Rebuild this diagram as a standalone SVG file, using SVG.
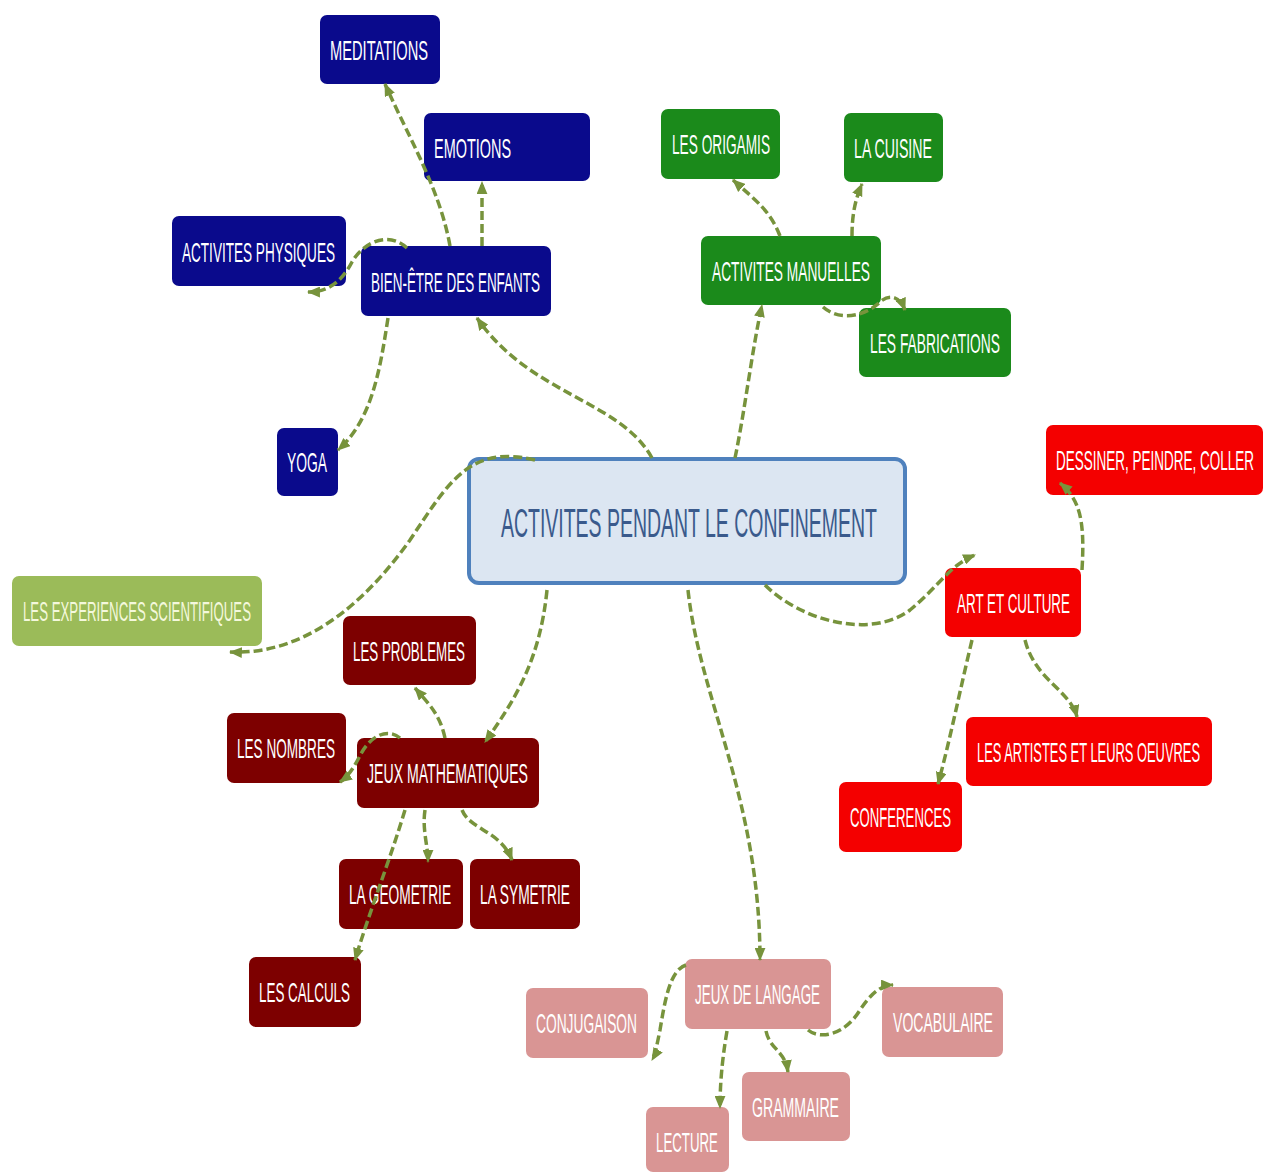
<svg xmlns="http://www.w3.org/2000/svg" width="1263" height="1172" viewBox="0 0 1263 1172">
<style>
.blue{fill:#0a0a8c}
.green{fill:#1b8a1b}
.lgreen{fill:#9bbb59}
.dred{fill:#7d0000}
.red{fill:#f40000}
.pink{fill:#d99594}
.t{font-family:"Liberation Sans",Arial,sans-serif;font-size:27px;fill:#ffffff}
.c{fill:none;stroke:#77933c;stroke-width:3.5;stroke-dasharray:9 4;marker-end:url(#ah)}
</style>
<defs>
<marker id="ah" viewBox="0 0 12 10" refX="11" refY="5" markerWidth="13" markerHeight="11" markerUnits="userSpaceOnUse" orient="auto">
<path d="M0,0 L12,5 L0,10 z" fill="#77933c"/>
</marker>
</defs>
<rect width="1263" height="1172" fill="#ffffff"/>

<g id="nodes">
<g id="center">
<rect x="469" y="459" width="436" height="124" rx="10" fill="#dce6f2" stroke="#4f81bd" stroke-width="4"/>
<text transform="translate(501,537) scale(0.5,1)" font-family="'Liberation Sans',Arial,sans-serif" font-size="40" fill="#3a5a8c" textLength="752" lengthAdjust="spacingAndGlyphs">ACTIVITES PENDANT LE CONFINEMENT</text>
</g>
<g id="meditations"><rect class="blue" x="320" y="15" width="120" height="69" rx="7"/><text class="t" transform="translate(330,60) scale(0.52,1)" textLength="188.5" lengthAdjust="spacingAndGlyphs">MEDITATIONS</text></g>
<g id="emotions"><rect class="blue" x="424" y="113" width="166" height="68" rx="7"/><text class="t" transform="translate(434,158) scale(0.52,1)" textLength="148.1" lengthAdjust="spacingAndGlyphs">EMOTIONS</text></g>
<g id="activites-physiques"><rect class="blue" x="172" y="216" width="174" height="70" rx="7"/><text class="t" transform="translate(182,262) scale(0.52,1)" textLength="294.2" lengthAdjust="spacingAndGlyphs">ACTIVITES PHYSIQUES</text></g>
<g id="bien-etre"><rect class="blue" x="361" y="246" width="190" height="70" rx="7"/><text class="t" transform="translate(371,292) scale(0.52,1)" textLength="325" lengthAdjust="spacingAndGlyphs">BIEN-ÊTRE DES ENFANTS</text></g>
<g id="yoga"><rect class="blue" x="277" y="428" width="61" height="68" rx="7"/><text class="t" transform="translate(287,472) scale(0.52,1)" textLength="76.9" lengthAdjust="spacingAndGlyphs">YOGA</text></g>

<g id="origamis"><rect class="green" x="661" y="109" width="119" height="70" rx="7"/><text class="t" transform="translate(672,154) scale(0.52,1)" textLength="188.5" lengthAdjust="spacingAndGlyphs">LES ORIGAMIS</text></g>
<g id="cuisine"><rect class="green" x="844" y="113" width="99" height="69" rx="7"/><text class="t" transform="translate(854,158) scale(0.52,1)" textLength="150" lengthAdjust="spacingAndGlyphs">LA CUISINE</text></g>
<g id="activites-manuelles"><rect class="green" x="701" y="236" width="180" height="69" rx="7"/><text class="t" transform="translate(712,281) scale(0.52,1)" textLength="303.8" lengthAdjust="spacingAndGlyphs">ACTIVITES MANUELLES</text></g>
<g id="fabrications"><rect class="green" x="859" y="308" width="152" height="69" rx="7"/><text class="t" transform="translate(870,353) scale(0.52,1)" textLength="250" lengthAdjust="spacingAndGlyphs">LES FABRICATIONS</text></g>

<g id="experiences"><rect class="lgreen" x="12" y="576" width="250" height="70" rx="7"/><text class="t" transform="translate(23,621) scale(0.52,1)" textLength="438.5" lengthAdjust="spacingAndGlyphs" style="fill:#f4f8dc">LES EXPERIENCES SCIENTIFIQUES</text></g>

<g id="problemes"><rect class="dred" x="343" y="616" width="133" height="69" rx="7"/><text class="t" transform="translate(353,661) scale(0.52,1)" textLength="215.4" lengthAdjust="spacingAndGlyphs">LES PROBLEMES</text></g>
<g id="nombres"><rect class="dred" x="227" y="713" width="119" height="70" rx="7"/><text class="t" transform="translate(237,758) scale(0.52,1)" textLength="188.5" lengthAdjust="spacingAndGlyphs">LES NOMBRES</text></g>
<g id="jeux-math"><rect class="dred" x="357" y="738" width="182" height="70" rx="7"/><text class="t" transform="translate(367,783) scale(0.52,1)" textLength="309.6" lengthAdjust="spacingAndGlyphs">JEUX MATHEMATIQUES</text></g>
<g id="geometrie"><rect class="dred" x="339" y="859" width="124" height="70" rx="7"/><text class="t" transform="translate(349,904) scale(0.52,1)" textLength="196.2" lengthAdjust="spacingAndGlyphs">LA GEOMETRIE</text></g>
<g id="symetrie"><rect class="dred" x="470" y="859" width="110" height="70" rx="7"/><text class="t" transform="translate(480,904) scale(0.52,1)" textLength="173.1" lengthAdjust="spacingAndGlyphs">LA SYMETRIE</text></g>
<g id="calculs"><rect class="dred" x="249" y="957" width="112" height="70" rx="7"/><text class="t" transform="translate(259,1002) scale(0.52,1)" textLength="175" lengthAdjust="spacingAndGlyphs">LES CALCULS</text></g>

<g id="dessiner"><rect class="red" x="1046" y="425" width="217" height="70" rx="7"/><text class="t" transform="translate(1056,470) scale(0.52,1)" textLength="380.8" lengthAdjust="spacingAndGlyphs">DESSINER, PEINDRE, COLLER</text></g>
<g id="art-culture"><rect class="red" x="945" y="568" width="136" height="69" rx="7"/><text class="t" transform="translate(957,613) scale(0.52,1)" textLength="217.3" lengthAdjust="spacingAndGlyphs">ART ET CULTURE</text></g>
<g id="artistes"><rect class="red" x="966" y="717" width="246" height="69" rx="7"/><text class="t" transform="translate(977,762) scale(0.52,1)" textLength="428.8" lengthAdjust="spacingAndGlyphs">LES ARTISTES ET LEURS OEUVRES</text></g>
<g id="conferences"><rect class="red" x="839" y="782" width="123" height="70" rx="7"/><text class="t" transform="translate(850,827) scale(0.52,1)" textLength="194.2" lengthAdjust="spacingAndGlyphs">CONFERENCES</text></g>

<g id="jeux-langage"><rect class="pink" x="685" y="959" width="146" height="70" rx="7"/><text class="t" transform="translate(695,1004) scale(0.52,1)" textLength="240.4" lengthAdjust="spacingAndGlyphs">JEUX DE LANGAGE</text></g>
<g id="conjugaison"><rect class="pink" x="526" y="988" width="122" height="70" rx="7"/><text class="t" transform="translate(536,1033) scale(0.52,1)" textLength="194.2" lengthAdjust="spacingAndGlyphs">CONJUGAISON</text></g>
<g id="vocabulaire"><rect class="pink" x="882" y="987" width="121" height="70" rx="7"/><text class="t" transform="translate(893,1032) scale(0.52,1)" textLength="192.3" lengthAdjust="spacingAndGlyphs">VOCABULAIRE</text></g>
<g id="grammaire"><rect class="pink" x="742" y="1072" width="108" height="69" rx="7"/><text class="t" transform="translate(752,1117) scale(0.52,1)" textLength="167.3" lengthAdjust="spacingAndGlyphs">GRAMMAIRE</text></g>
<g id="lecture"><rect class="pink" x="646" y="1107" width="83" height="65" rx="7"/><text class="t" transform="translate(656,1152) scale(0.52,1)" textLength="119.2" lengthAdjust="spacingAndGlyphs">LECTURE</text></g>
</g>

<g id="connectors">
<path class="c" d="M652,458 C620,400 530,395 477,318"/>
<path class="c" d="M735,458 C745,410 752,350 762,305"/>
<path class="c" d="M535,460 C470,445 450,480 410,540 C360,610 300,655 230,652"/>
<path class="c" d="M547,590 C540,660 515,700 485,742"/>
<path class="c" d="M688,590 C700,700 760,800 760,960"/>
<path class="c" d="M765,585 C800,620 870,640 910,610 C940,585 950,565 975,555"/>

<path class="c" d="M450,246 C440,190 410,140 385,84"/>
<path class="c" d="M482,246 L482,182"/>
<path class="c" d="M407,248 C390,232 365,240 352,262 C340,285 325,292 308,292"/>
<path class="c" d="M388,318 C380,370 372,420 338,450"/>

<path class="c" d="M780,236 C770,210 755,200 733,180"/>
<path class="c" d="M852,236 C852,215 855,200 862,184"/>
<path class="c" d="M823,307 C840,322 865,316 880,302 C890,293 900,297 905,310"/>

<path class="c" d="M1082,570 C1085,520 1080,500 1060,483"/>
<path class="c" d="M1025,640 C1035,680 1070,690 1077,717"/>
<path class="c" d="M972,640 C960,690 950,740 938,784"/>

<path class="c" d="M445,738 C440,715 430,705 415,688"/>
<path class="c" d="M400,738 C388,728 372,735 362,752 C355,765 350,775 340,782"/>
<path class="c" d="M425,810 C422,830 428,845 428,862"/>
<path class="c" d="M462,810 C470,830 500,830 512,860"/>
<path class="c" d="M405,810 C390,860 370,910 355,960"/>

<path class="c" d="M686,965 C670,970 665,1000 660,1030 C657,1045 655,1055 652,1060"/>
<path class="c" d="M727,1031 C722,1060 720,1085 720,1108"/>
<path class="c" d="M766,1031 C770,1050 785,1050 788,1072"/>
<path class="c" d="M808,1030 C820,1040 845,1035 860,1010 C870,995 880,985 893,985"/>
</g>
</svg>
